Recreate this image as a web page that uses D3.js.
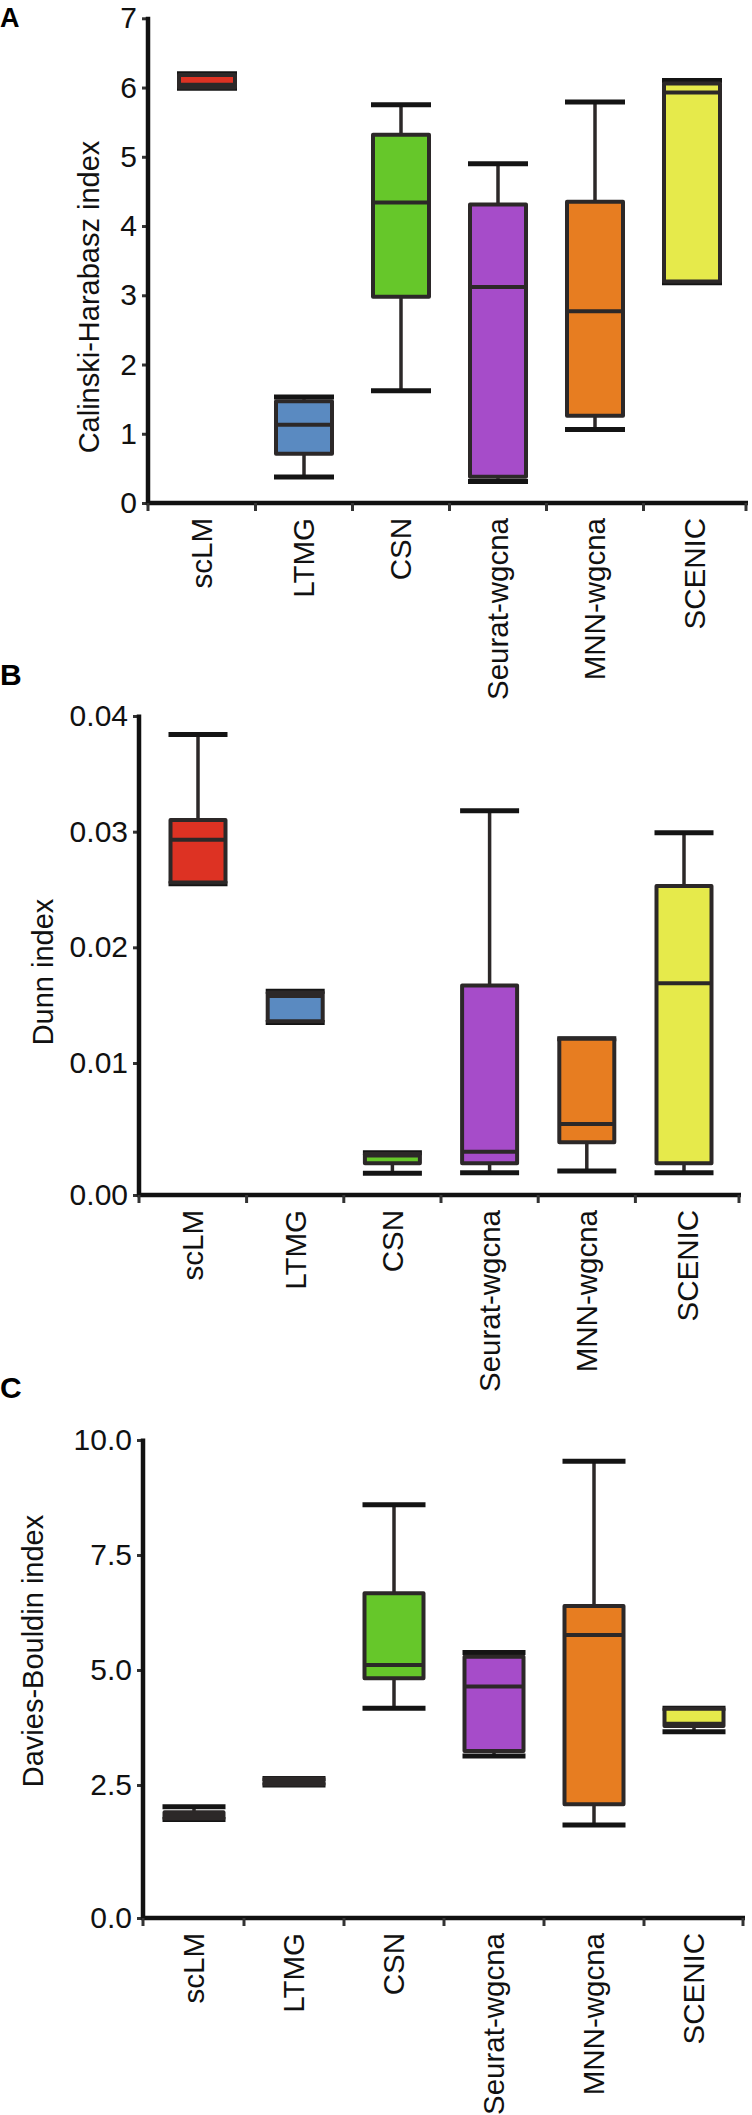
<!DOCTYPE html>
<html>
<head>
<meta charset="utf-8">
<script src="https://cdn.jsdelivr.net/npm/d3@7"></script>
<style>
  html, body { margin: 0; padding: 0; background: #ffffff; }
  svg { display: block; }
  text { font-family: "Liberation Sans", Arial, "DejaVu Sans", sans-serif; }
</style>
</head>
<body>
<svg id="chart" width="752" height="2115"></svg>
<script>
// ---------------- data ----------------
const categories = ["scLM", "LTMG", "CSN", "Seurat-wgcna", "MNN-wgcna", "SCENIC"];
const boxColors = ["#DD3223", "#5A8AC1", "#66C72A", "#A64CC9", "#E77D21", "#E6EA4B"];

// Panel A: Calinski-Harabasz index  (min, q1, median, q3, max)
const chMin    = [5.99, 0.375, 1.62, 0.31, 1.06, 3.18];
const chQ1     = [6.00, 0.71, 2.98, 0.38, 1.26, 3.20];
const chMedian = [6.04, 1.13, 4.34, 3.12, 2.77, 5.93];
const chQ3     = [6.18, 1.47, 5.32, 4.31, 4.35, 6.06];
const chMax    = [6.20, 1.53, 5.75, 4.90, 5.79, 6.10];
const chTicks  = [0, 1, 2, 3, 4, 5, 6, 7];

// Panel B: Dunn index
const dunnMin    = [0.0255, 0.0135, 0.00164, 0.00169, 0.00182, 0.00169];
const dunnQ1     = [0.0256, 0.0136, 0.0024, 0.0024, 0.0040, 0.0024];
const dunnMedian = [0.0293, 0.0158, 0.0030, 0.00328, 0.00538, 0.0169];
const dunnQ3     = [0.0310, 0.0161, 0.0031, 0.0167, 0.0121, 0.0253];
const dunnMax    = [0.0384, 0.0162, 0.0032, 0.0318, 0.0121, 0.0299];
const dunnTicks  = [0, 0.01, 0.02, 0.03, 0.04];

// Panel C: Davies-Bouldin index
const dbMin    = [1.85, 2.50, 4.17, 3.13, 1.75, 3.66];
const dbQ1     = [1.87, 2.51, 4.82, 3.24, 2.14, 3.78];
const dbMedian = [1.93, 2.58, 5.11, 4.64, 5.76, 3.83];
const dbQ3     = [1.99, 2.64, 6.67, 5.29, 6.39, 4.16];
const dbMax    = [2.09, 2.64, 8.59, 5.38, 9.54, 4.17];
const dbTicks  = [0, 2.5, 5, 7.5, 10];

// ---------------- layout ----------------
const panels = [
  {
    letter: "A", letterY: 27, letterSize: 27, title: "Calinski-Harabasz index", titleX: 99, titleY: 297,
    min: chMin, q1: chQ1, med: chMedian, q3: chQ3, max: chMax, ticks: chTicks, fmt: d3.format("d"),
    yDomain: [0, 7], yRange: [503, 18.3],
    axisX: [148, 746], c0: 207, step: 97, boxW: 56
  },
  {
    letter: "B", letterY: 685, letterSize: 30, title: "Dunn index", titleX: 53, titleY: 972,
    min: dunnMin, q1: dunnQ1, med: dunnMedian, q3: dunnQ3, max: dunnMax, ticks: dunnTicks, fmt: d3.format(".2f"),
    yDomain: [0, 0.01, 0.04], yRange: [1195, 1063, 716],
    axisX: [139, 739], c0: 198, step: 97.2, boxW: 55
  },
  {
    letter: "C", letterY: 1398, letterSize: 30, title: "Davies-Bouldin index", titleX: 43, titleY: 1651,
    min: dbMin, q1: dbQ1, med: dbMedian, q3: dbQ3, max: dbMax, ticks: dbTicks, fmt: d3.format(".1f"),
    yDomain: [0, 2.5, 10], yRange: [1918, 1785, 1440],
    axisX: [143, 743], c0: 194, step: 100, boxW: 59
  }
];

const svg = d3.select("#chart");
svg.append("rect").attr("width", 752).attr("height", 2115).attr("fill", "#ffffff");

const STROKE = "#2c2828";

panels.forEach(p => {
  const g = svg.append("g");
  const y = d3.scaleLinear().domain(p.yDomain).range(p.yRange);
  const x = d3.scaleBand().domain(categories)
    .range([p.c0 - p.step / 2, p.c0 - p.step / 2 + categories.length * p.step])
    .padding(0);
  const cx = c => x(c) + x.bandwidth() / 2;
  const y0 = y(0);

  // panel letter
  g.append("text").attr("x", 0).attr("y", p.letterY)
    .attr("font-size", p.letterSize).attr("font-weight", "bold").attr("fill", "#000")
    .text(p.letter);

  // boxes
  const rows = categories.map((c, i) => ({
    c, i, min: p.min[i], q1: p.q1[i], med: p.med[i], q3: p.q3[i], max: p.max[i]
  }));
  const bx = g.selectAll("g.box").data(rows).enter().append("g").attr("class", "box");

  // whiskers
  bx.append("line")
    .attr("x1", d => cx(d.c)).attr("x2", d => cx(d.c))
    .attr("y1", d => y(d.max)).attr("y2", d => y(d.q3))
    .attr("stroke", STROKE).attr("stroke-width", 3.5);
  bx.append("line")
    .attr("x1", d => cx(d.c)).attr("x2", d => cx(d.c))
    .attr("y1", d => y(d.q1)).attr("y2", d => y(d.min))
    .attr("stroke", STROKE).attr("stroke-width", 3.5);
  // caps
  bx.append("line")
    .attr("x1", d => cx(d.c) - p.boxW / 2 - 2).attr("x2", d => cx(d.c) + p.boxW / 2 + 2)
    .attr("y1", d => y(d.max)).attr("y2", d => y(d.max))
    .attr("stroke", "#141414").attr("stroke-width", 5);
  bx.append("line")
    .attr("x1", d => cx(d.c) - p.boxW / 2 - 2).attr("x2", d => cx(d.c) + p.boxW / 2 + 2)
    .attr("y1", d => y(d.min)).attr("y2", d => y(d.min))
    .attr("stroke", "#141414").attr("stroke-width", 5);
  // box
  bx.append("rect")
    .attr("x", d => cx(d.c) - p.boxW / 2)
    .attr("width", p.boxW)
    .attr("y", d => y(d.q3))
    .attr("height", d => Math.max(0.5, y(d.q1) - y(d.q3)))
    .attr("fill", d => boxColors[d.i])
    .attr("stroke", STROKE).attr("stroke-width", 4)
    .attr("stroke-linejoin", "round");
  // median
  bx.append("line")
    .attr("x1", d => cx(d.c) - p.boxW / 2).attr("x2", d => cx(d.c) + p.boxW / 2)
    .attr("y1", d => y(d.med)).attr("y2", d => y(d.med))
    .attr("stroke", STROKE).attr("stroke-width", 4);

  // y axis
  const yAxis = d3.axisLeft(y).tickValues(p.ticks).tickFormat(p.fmt)
    .tickSize(6).tickSizeOuter(0).tickPadding(5);
  const ya = g.append("g").attr("transform", `translate(${p.axisX[0]},0)`).call(yAxis);
  ya.select(".domain").remove();
  ya.selectAll(".tick line").attr("stroke", "#333").attr("stroke-width", 3);
  ya.selectAll(".tick text").attr("font-size", 30).attr("fill", "#111")
    .attr("font-family", "'Liberation Sans', Arial, sans-serif");
  g.append("line")
    .attr("x1", p.axisX[0]).attr("x2", p.axisX[0])
    .attr("y1", y(p.ticks[p.ticks.length - 1]) - 1.5).attr("y2", y0 + 2)
    .attr("stroke", "#111").attr("stroke-width", 4.5);

  // x axis
  const inner = categories.slice(1).map(c => x(c));
  const tickXs = [p.axisX[0]].concat(inner).concat([p.axisX[1]]);
  g.append("line")
    .attr("x1", p.axisX[0] - 2).attr("x2", p.axisX[1] + 2)
    .attr("y1", y0).attr("y2", y0)
    .attr("stroke", "#111").attr("stroke-width", 4.5);
  g.selectAll("line.xt").data(tickXs).enter().append("line").attr("class", "xt")
    .attr("x1", d => d).attr("x2", d => d)
    .attr("y1", y0).attr("y2", y0 + 8)
    .attr("stroke", "#333").attr("stroke-width", 3);
  g.selectAll("text.xl").data(categories).enter().append("text").attr("class", "xl")
    .attr("transform", (c, i) => {
      const lx = (tickXs[i] + tickXs[i + 1]) / 2;
      return `translate(${lx},${y0 + 15}) rotate(-90)`;
    })
    .attr("text-anchor", "end")
    .attr("dy", "0.35em")
    .attr("font-size", 29.5).attr("fill", "#111")
    .text(c => c);

  // y title
  g.append("text")
    .attr("transform", `translate(${p.titleX},${p.titleY}) rotate(-90)`)
    .attr("text-anchor", "middle")
    .attr("font-size", 29).attr("fill", "#111")
    .text(p.title);
});
</script>
</body>
</html>
